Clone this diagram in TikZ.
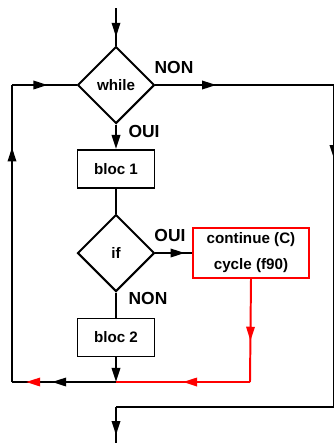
\documentclass[tikz,border=0pt]{standalone}
\usepackage{fontspec}
\setmainfont{Liberation Sans}
\usetikzlibrary{shapes.geometric}
\usetikzlibrary{arrows.meta}
\usetikzlibrary{decorations.markings}

\tikzset{
  flow/.style={line width=1.4pt},
  midarrow/.style={postaction={decorate,decoration={markings,
    mark=at position #1 with {\arrow{Triangle[length=10pt,width=6pt]}}}}},
  redarrow/.style={postaction={decorate,decoration={markings,
    mark=at position #1 with {\arrow[red]{Triangle[length=10pt,width=6pt]}}}}},
  test/.style={draw, flow, diamond, inner sep=0pt, minimum width=1.925cm, minimum height=1.925cm},
  bloc/.style={draw, flow, rectangle, minimum width=1.925cm, minimum height=0.95cm},
  label/.style={inner sep=0pt, font=\fontsize{12.4pt}{14pt}\selectfont\bfseries}
}

\begin{document}
\begin{tikzpicture}[x=0.025cm, y=-0.025cm, font=\fontsize{10.8pt}{13pt}\selectfont\bfseries]
  \useasboundingbox (0,0) rectangle (334,443);
  \node[test] at (116,85) (while) {while};
  \node[bloc] at (116,169) (bloc1) {bloc 1};
  \node[test] at (116,253) (if) {if};
  \node[bloc] at (116,337.5) (bloc2) {bloc 2};
  \node[draw=red, flow, rectangle, minimum width=2.9cm, minimum height=1.25cm, align=center]
    at (251,253) (cycle) {continue (C)\\[5.4pt]cycle (f90)};
  % labels
  \node[label] at (174,67) (nonwhile) {NON};
  \node[label] at (144,131) (ouiwhile) {OUI};
  \node[label] at (170,235) (ouiif) {OUI};
  \node[label] at (148,298) (nonif) {NON};
  % corners
  \coordinate (start) at (116,8);
  \coordinate (join) at (116,382);
  \coordinate (loopbl) at (12,382);
  \coordinate (looptl) at (12,85);
  \coordinate (exittr) at (334,85);
  \coordinate (exitbr) at (334,407);
  \coordinate (exitbl) at (116,407);
  \coordinate (stop) at (116,443);
  \coordinate (redturn) at (250,382);
  % main flow
  \draw[flow, midarrow=0.77] (start) -- (while.north);
  \draw[flow, -{Triangle[length=10pt,width=6pt]}] (while.south) -- (bloc1.north);
  \draw[flow] (bloc1.south) -- (if.north);
  \draw[flow] (if.south) -- (bloc2.north);
  \draw[flow, -{Triangle[length=10pt,width=6pt]}] (bloc2.south) -- (join);
  % loop back
  \draw[flow, midarrow=0.615, redarrow=0.865] (join) -- (loopbl);
  \draw[flow, midarrow=0.79] (loopbl) -- (looptl);
  \draw[flow, midarrow=0.55] (looptl) -- (while.west);
  % exit
  \draw[flow, midarrow=0.34] (while.east) -- (exittr);
  \draw[flow, midarrow=0.23] (exittr) -- (exitbr);
  \draw[flow] (exitbr) -- (exitbl);
  \draw[flow, midarrow=0.78] (exitbl) -- (stop);
  % continue / cycle
  \draw[flow, midarrow=0.8] (if.east) -- (cycle.west);
  \draw[flow, red, midarrow=0.6] (cycle.south) -- (redturn);
  \draw[flow, red, midarrow=0.5] (redturn) -- (join);
\end{tikzpicture}
\end{document}
